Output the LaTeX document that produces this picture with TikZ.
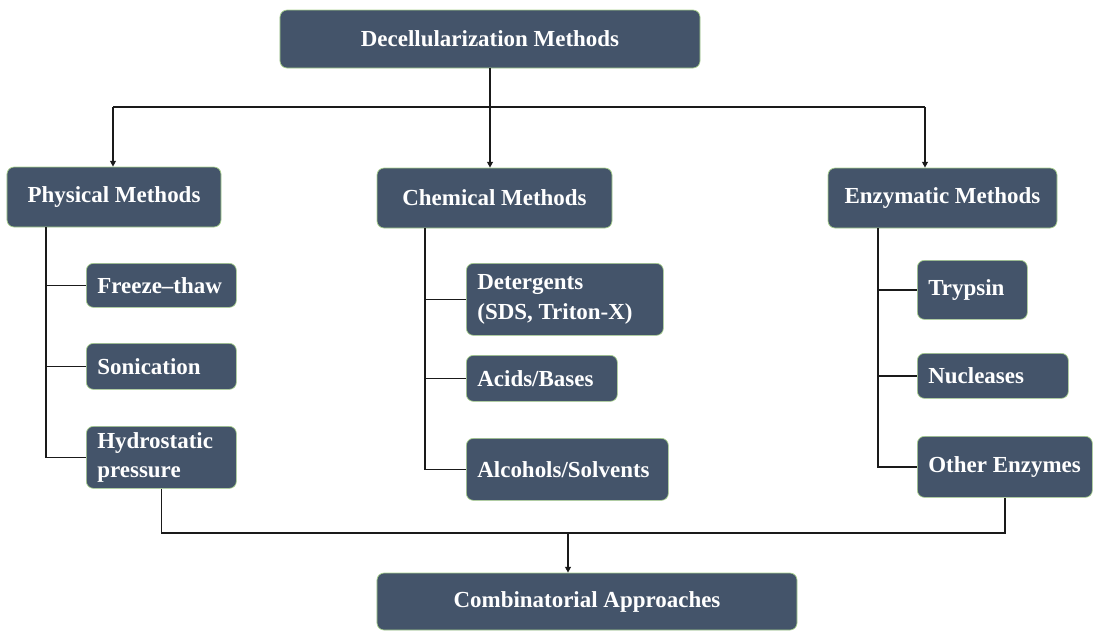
\documentclass[tikz,border=0pt]{standalone}
\usepackage{fontspec}
\setmainfont{Liberation Serif}
\usetikzlibrary{arrows.meta,positioning}
\definecolor{slatefill}{HTML}{44546A}
\definecolor{slateedge}{HTML}{A9D18E}
\definecolor{linkink}{HTML}{1A1A1A}
\tikzset{
  headbox/.style={draw=slateedge, fill=slatefill, rounded corners=6pt,
    line width=.6pt, text=white, font=\fontsize{19.6}{25}\selectfont\bfseries,
    align=center, inner sep=0pt},
  leafbox/.style={draw=slateedge, fill=slatefill, rounded corners=6pt,
    line width=.6pt, text=white, font=\fontsize{19.6}{25}\selectfont\bfseries,
    align=flush left, inner xsep=.33cm, inner ysep=0pt, anchor=north west},
  link/.style={draw=linkink, line width=1.1pt},
  linkarrow/.style={link, -{Triangle[length=5pt,width=5pt]}}
}

\begin{document}
\begin{tikzpicture}[x=.03cm,y=-.03cm]
  \useasboundingbox (0,0) rectangle (1094,631);
  % top level and the three families
  \node[headbox, minimum width=12.6cm, minimum height=1.74cm] (decell) at (490,39) {Decellularization Methods};
  \node[headbox, minimum width=6.42cm, minimum height=1.8cm] (phys) at (114,197) {Physical Methods};
  \node[headbox, minimum width=7.05cm, minimum height=1.8cm] (chem) at (494.5,198) {Chemical Methods};
  \node[headbox, minimum width=6.87cm, minimum height=1.8cm] (enz) at (942.5,198) {Enzymatic Methods};
  \node[headbox, minimum width=12.6cm, minimum height=1.71cm] (comb) at (587,601.5) {Combinatorial Approaches};

  % physical
  \node[leafbox, text width=3.84cm, minimum height=1.32cm] (freeze) at (86,263) {Freeze--thaw};
  \node[leafbox, text width=3.84cm, minimum height=1.38cm] (sonic) at (86,343) {Sonication};
  \node[leafbox, text width=3.84cm, minimum height=1.86cm] (hydro) at (86,426) {Hydrostatic\\pressure};
  % chemical
  \node[leafbox, text width=5.25cm, minimum height=2.16cm] (deterg) at (466,263) {Detergents\\(SDS, Triton-X)};
  \node[leafbox, text width=3.87cm, minimum height=1.38cm] (acids) at (466,355) {Acids/Bases};
  \node[leafbox, text width=5.4cm, minimum height=1.86cm] (alcoh) at (466,438) {Alcohols/Solvents};
  % enzymatic
  \node[leafbox, text width=2.64cm, minimum height=1.77cm] (tryp) at (917,260) {Trypsin};
  \node[leafbox, text width=3.87cm, minimum height=1.35cm] (nucl) at (917,353) {Nucleases};
  \node[leafbox, text width=4.59cm, minimum height=1.83cm] (other) at (917,436) {Other Enzymes};

  % splitting bar
  \coordinate (barL) at (113,107);
  \coordinate (barR) at (925,107);
  \draw[link] (barL) -- (barR);
  \draw[linkarrow] (decell.south) -- (decell.south |- chem.north);
  \draw[linkarrow] (barL) -- (barL |- phys.north);
  \draw[linkarrow] (barR) -- (barR |- enz.north);

  % trunks
  \coordinate (physT) at (46,227);
  \coordinate (chemT) at (425,228);
  \coordinate (enzT) at (878,228);
  \draw[link] (physT) |- (hydro.west);
  \draw[link] (physT |- freeze.west) -- (freeze.west);
  \draw[link] (physT |- sonic.west) -- (sonic.west);
  \draw[link] (chemT) |- (alcoh.west);
  \draw[link] (chemT |- deterg.west) -- (deterg.west);
  \draw[link] (chemT |- acids.west) -- (acids.west);
  \draw[link] (enzT) |- (other.west);
  \draw[link] (enzT |- tryp.west) -- (tryp.west);
  \draw[link] (enzT |- nucl.west) -- (nucl.west);

  % joining to the combined approach
  \coordinate (join) at (568,533);
  \draw[link] (hydro.south) |- (join) -| (other.south);
  \draw[linkarrow] (join) -- (join |- comb.north);
\end{tikzpicture}
\end{document}
